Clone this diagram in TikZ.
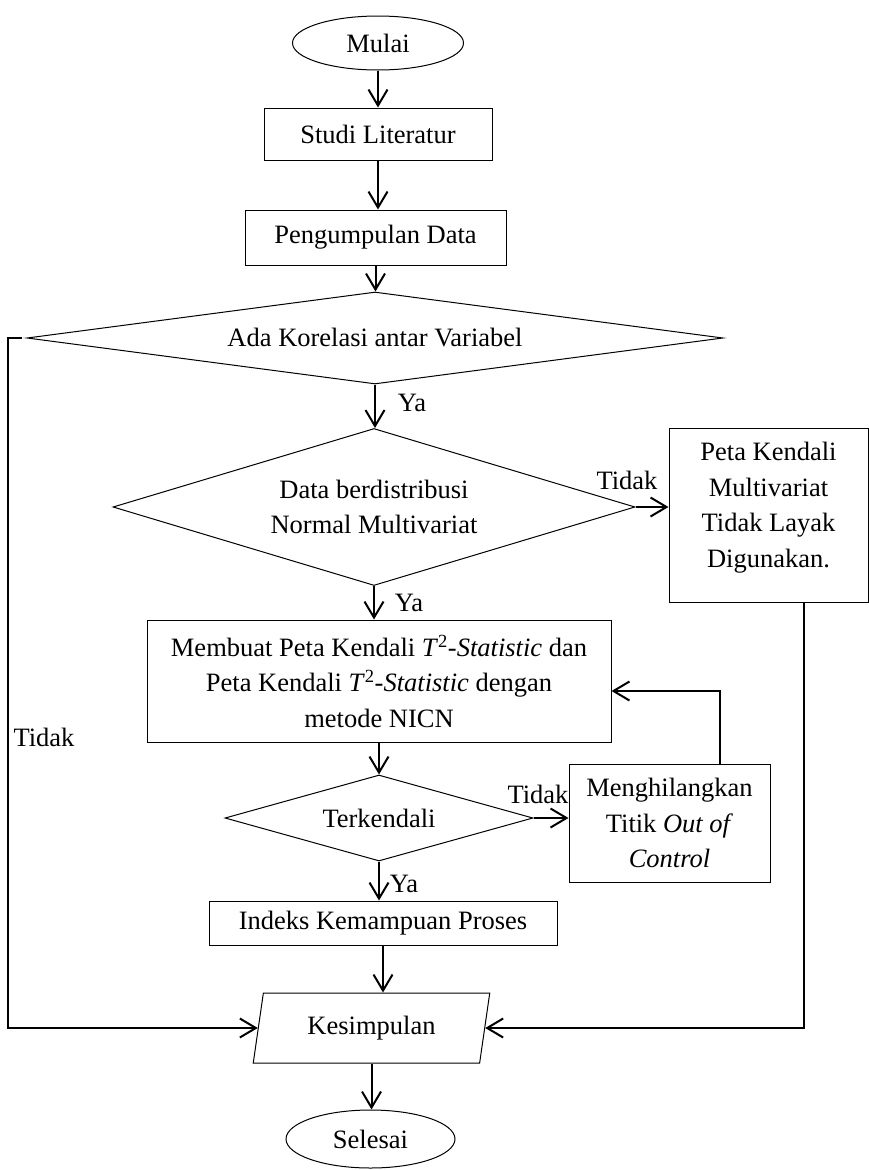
\documentclass[tikz,border=0pt]{standalone}
\usepackage{fontspec}
\setmainfont{Liberation Serif}
\usepackage{tikz}
\usetikzlibrary{shapes.geometric,arrows.meta,positioning}

\tikzset{
  proses/.style={draw, line width=1pt, rectangle, align=center, inner sep=0pt},
  terminal/.style={draw, line width=1pt, ellipse, inner sep=0pt},
  keputusan/.style={draw, line width=1pt, diamond, align=center, inner sep=0pt},
  masukan/.style={draw, line width=1pt, trapezium, trapezium stretches=true,
    trapezium left angle=76, trapezium right angle=104, inner sep=0pt},
  panah/.style={line width=2pt, -{Straight Barb[length=16pt,width=19pt]}},
}

\begin{document}
\begin{tikzpicture}[x=1pt,y=-1pt,every node/.style={font=\fontsize{26.5}{35.5}\selectfont}]
\useasboundingbox (0,0) rectangle (869,1170);

%Shape: Ellipse
\node[terminal, minimum width=171pt, minimum height=54pt] (mulai) at (378,43) {Mulai};
%Shape: Rectangle
\node[proses, minimum width=228pt, minimum height=52pt] (studi) at (378,134) {Studi Literatur};
\node[proses, minimum width=261pt, minimum height=55pt] (data) at (375.5,237.5) {Pengumpulan Data};
%Shape: Diamond
\node[keputusan, aspect=7.56, minimum width=696pt, minimum height=92pt] (korelasi) at (375,338) {Ada Korelasi antar Variabel};
\node[keputusan, aspect=3.32, minimum width=522pt, minimum height=157pt] (normal) at (374,507) {Data berdistribusi\\Normal Multivariat};
\node[proses, minimum width=199pt, minimum height=174pt] (peta) at (768.5,515) {Peta Kendali\\Multivariat\\Tidak Layak\\Digunakan.\\[-15.5pt]};
\node[proses, minimum width=464pt, minimum height=122pt] (membuat) at (379,681)
  {Membuat Peta Kendali \textit{T}\textsuperscript{2}\textit{-Statistic} dan\\
   Peta Kendali \textit{T}\textsuperscript{2}\textit{-Statistic} dengan\\metode NICN};
\node[keputusan, aspect=3.58, minimum width=308pt, minimum height=86pt] (terkendali) at (379,818) {Terkendali};
\node[proses, minimum width=201pt, minimum height=118pt] (hilang) at (669.5,823)
  {Menghilangkan\\Titik \textit{Out of}\\\textit{Control}};
\node[proses, minimum width=348pt, minimum height=44pt] (indeks) at (383,923) {Indeks Kemampuan Proses};
%Shape: Parallelogram
\node[masukan, minimum width=237pt, minimum height=70pt] (kesimpulan) at (371.5,1028) {Kesimpulan};
\node[terminal, minimum width=169pt, minimum height=58pt] (selesai) at (370.5,1139) {Selesai};

%Straight Lines
\draw[panah] (mulai.south) -- (mulai.south |- studi.north);
\draw[panah] (studi.south) -- (studi.south |- data.north);
\draw[panah] (data.south) -- (data.south |- korelasi.north);
\draw[panah] (korelasi.south) -- (korelasi.south |- normal.north);
\draw[panah] (normal.east) -- (normal.east -| peta.west);
\draw[panah] (normal.south) -- (normal.south |- membuat.north);
\draw[panah] (membuat.south) -- (membuat.south |- terkendali.north);
\draw[panah] (terkendali.east) -- (terkendali.east -| hilang.west);
\draw[panah] ([xshift=50.5pt]hilang.north) |- ([yshift=-10pt]membuat.east);
\draw[panah] (terkendali.south) -- (terkendali.south |- indeks.north);
\draw[panah] (indeks.south) -- (indeks.south |- kesimpulan.north);
\draw[panah] (kesimpulan.south) -- (kesimpulan.south |- selesai.north);
\draw[panah, shorten <=5pt] (korelasi.west) -- ++(-19,0) |- (kesimpulan.west);
\draw[panah] ([xshift=-65pt]peta.south east) |- (kesimpulan.east);

% Text Node
\node (ya1) at (412,403) {Ya};
\node (ya2) at (409,603) {Ya};
\node (ya3) at (404,884) {Ya};
\node (tidak1) at (627,480) {Tidak};
\node (tidak2) at (538,794) {Tidak};
\node (tidak3) at (44,737) {Tidak};

\end{tikzpicture}
\end{document}
